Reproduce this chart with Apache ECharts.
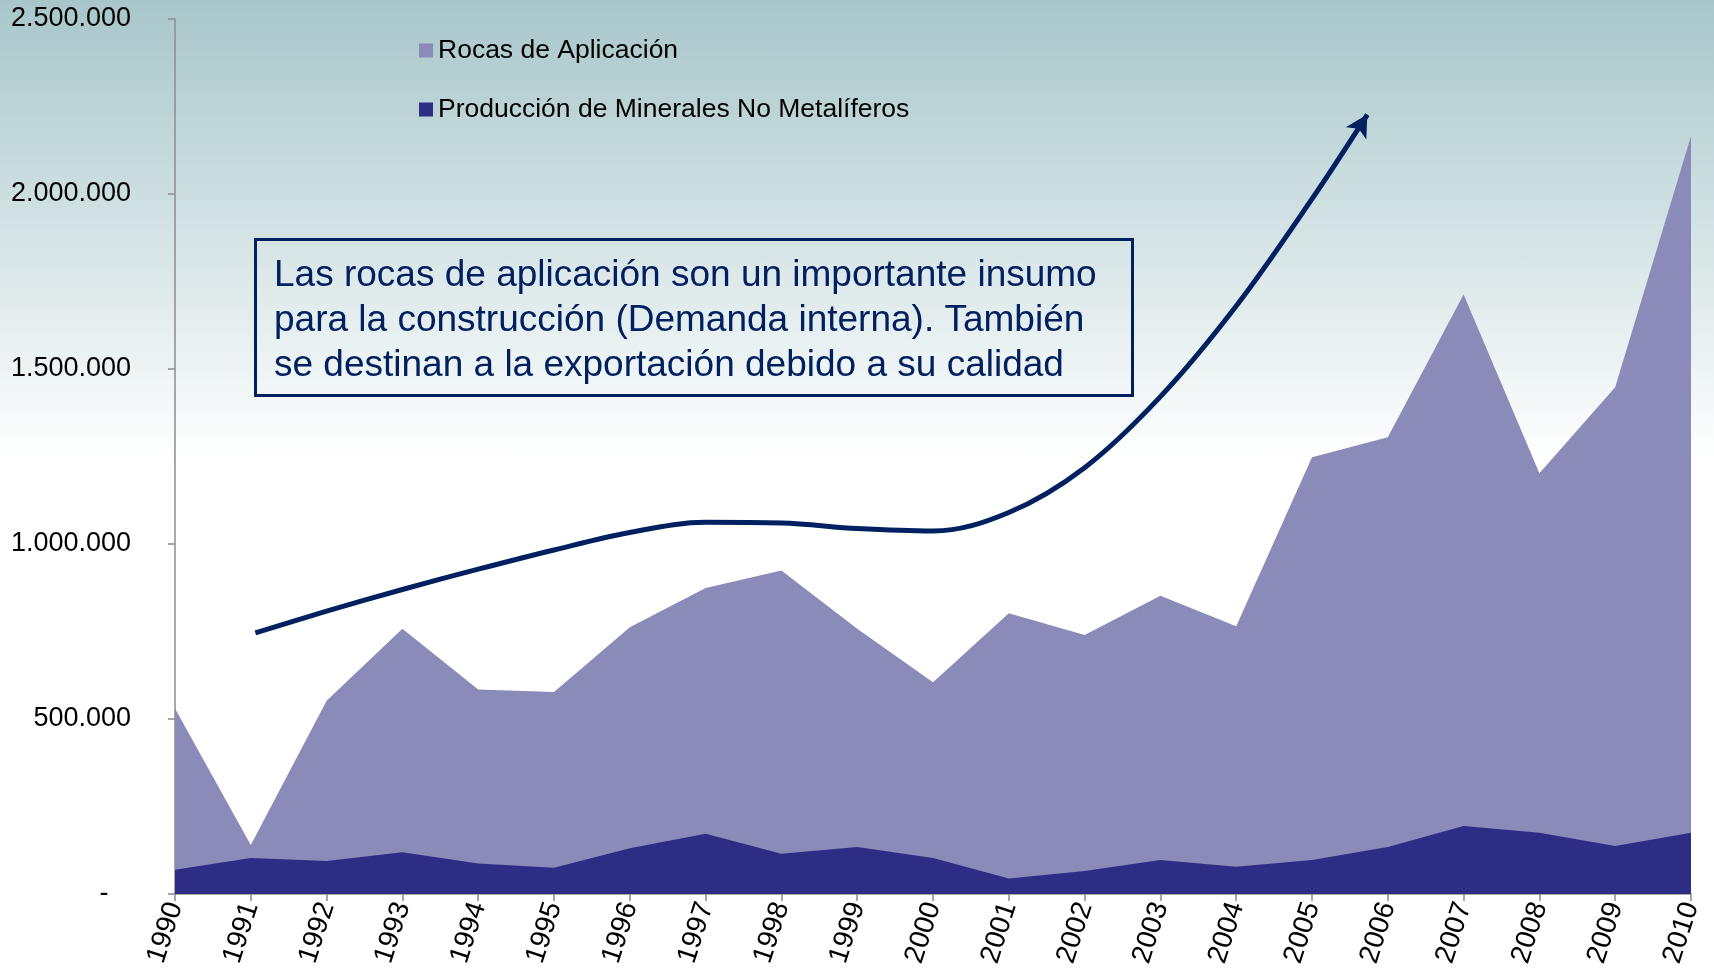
<!DOCTYPE html>
<html>
<head>
<meta charset="utf-8">
<script src="https://cdn.jsdelivr.net/npm/echarts@6/dist/echarts.min.js"></script>
<style>
  html, body { margin: 0; padding: 0; }
  #chart {
    width: 1714px;
    height: 976px;
    background: linear-gradient(to bottom, #a8c6ca 0%, #ffffff 47%, #ffffff 100%);
  }
</style>
</head>
<body>
<div id="chart"></div>
<script>
// años
const years = ['1990', '1991', '1992', '1993', '1994', '1995', '1996', '1997', '1998', '1999', '2000',
  '2001', '2002', '2003', '2004', '2005', '2006', '2007', '2008', '2009', '2010']

const rocasAplicacion = [530000, 140000, 552000, 758000, 584000, 577000, 762000, 874000, 924000, 758000, 605000,
  802000, 740000, 852000, 765000, 1248000, 1305000, 1713000, 1202000, 1448000, 2166000]

const produccionNoMetaliferos = [69000, 103000, 94000, 119000, 87000, 75000, 131000, 172000, 115000, 134000, 103000,
  44000, 66000, 97000, 78000, 97000, 134000, 194000, 175000, 137000, 175000]

// eje Y
const yMin = 0
const yMax = 2500000
const yStep = 500000

// flecha de tendencia (posición del año, valor)
const trendArrow = [[1.06, 746000], [2, 808000], [3, 870000], [4, 928000], [5, 983000], [6, 1033000],
  [7, 1062000], [8, 1060000], [9, 1044000], [10, 1037000], [11, 1090000], [12, 1218000],
  [13, 1421000], [14, 1680000], [15, 1986000], [15.73, 2227000]]

const note = 'Las rocas de aplicación son un importante insumo\npara la construcción (Demanda interna). También\nse destinan a la exportación debido a su calidad'

const chart = echarts.init(document.getElementById('chart'))

const fmt = (v) => {
  if (v === 0) return '-   '
  return String(v).replace(/\B(?=(\d{3})+(?!\d))/g, '.')
}

const arrowData = trendArrow.map((p, i) => {
  if (i === trendArrow.length - 1) {
    return {
      value: p,
      symbol: 'arrow',
      symbolSize: [18, 22],
      symbolRotate: -31,
      itemStyle: { color: '#002060' }
    }
  }
  return { value: p, symbol: 'none' }
})

const axisGray = '#8c8c8c'

chart.setOption({
  animation: false,
  backgroundColor: 'transparent',
  textStyle: { fontFamily: 'Liberation Sans, Arial, sans-serif' },
  title: {
    text: note,
    left: 255,
    top: 239,
    padding: [14, 36, 8, 19],
    borderColor: '#002060',
    borderWidth: 3,
    textStyle: {
      color: '#002060',
      fontSize: 37,
      fontWeight: 'normal',
      lineHeight: 45,
      fontFamily: 'Liberation Sans, Arial, sans-serif'
    }
  },
  legend: {
    data: ['Rocas de Aplicación', 'Producción de Minerales No Metalíferos'],
    orient: 'vertical',
    left: 414,
    top: 32,
    itemWidth: 14,
    itemHeight: 14,
    itemGap: 32,
    icon: 'rect',
    selectedMode: false,
    textStyle: { color: '#000', fontSize: 26.5 }
  },
  grid: {
    left: 175,
    right: 23,
    top: 19,
    bottom: 82,
    containLabel: false
  },
  xAxis: [
    {
      type: 'category',
      data: years,
      boundaryGap: false,
      axisLine: { lineStyle: { color: axisGray, width: 1.5 } },
      axisTick: { show: true, length: 7, interval: 0, lineStyle: { color: axisGray, width: 1.5 } },
      axisLabel: {
        interval: 0,
        rotate: 72,
        margin: 9,
        color: '#000',
        fontSize: 28
      },
      splitLine: { show: false }
    },
    {
      type: 'value',
      min: 0,
      max: years.length - 1,
      show: false
    }
  ],
  yAxis: {
    type: 'value',
    min: yMin,
    max: yMax,
    interval: yStep,
    axisLine: { show: true, lineStyle: { color: axisGray, width: 1.5 } },
    axisTick: { show: true, length: 7, lineStyle: { color: axisGray, width: 1.5 } },
    axisLabel: {
      color: '#000',
      fontSize: 27,
      margin: 44,
      formatter: fmt
    },
    splitLine: { show: false }
  },
  series: [
    {
      name: 'Rocas de Aplicación',
      type: 'line',
      data: rocasAplicacion,
      symbol: 'none',
      lineStyle: { width: 0 },
      itemStyle: { color: '#8a8bb8' },
      areaStyle: { color: '#8a8bb8', opacity: 1 }
    },
    {
      name: 'Producción de Minerales No Metalíferos',
      type: 'line',
      data: produccionNoMetaliferos,
      symbol: 'none',
      lineStyle: { width: 0 },
      itemStyle: { color: '#2e2d86' },
      areaStyle: { color: '#2e2d86', opacity: 1 }
    },
    {
      name: 'tendencia',
      type: 'line',
      xAxisIndex: 1,
      data: arrowData,
      smooth: 0.35,
      symbol: 'none',
      showSymbol: true,
      lineStyle: { color: '#002060', width: 5 },
      itemStyle: { color: '#002060' },
      z: 5
    }
  ]
})
</script>
</body>
</html>
